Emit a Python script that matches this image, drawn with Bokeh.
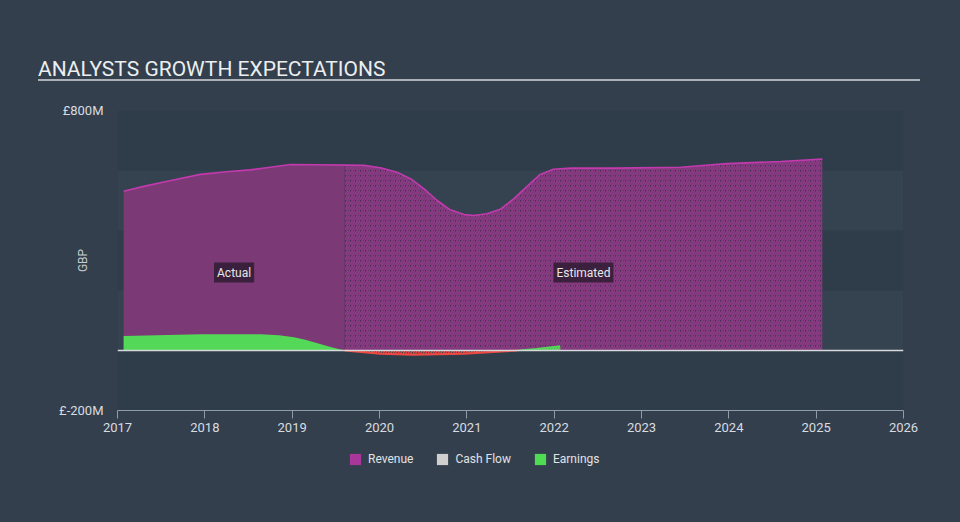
import numpy as np
from bokeh.plotting import figure
from bokeh.layouts import column
from bokeh.models import (Range1d, FixedTicker, Span, Label, Legend, LegendItem, Div,
                          BoxAnnotation)
from bokeh.embed import file_html
from bokeh.resources import INLINE

title_text = "ANALYSTS GROWTH EXPECTATIONS"
y_axis_name = "GBP"
x_ticks = [2017, 2018, 2019, 2020, 2021, 2022, 2023, 2024, 2025, 2026]
y_ticks = [-200, 800]
y_tick_labels = ["£-200M", "£800M"]
band_ticks = [-200, 0, 200, 400, 600, 800]
split_year = 2019.6

rev_years = [2017.07, 2017.3, 2017.57, 2017.95, 2018.25, 2018.52, 2018.75, 2018.98, 2019.3,
             2019.6, 2019.82, 2020.01, 2020.2, 2020.36, 2020.51, 2020.66, 2020.81, 2020.97,
             2021.08, 2021.23, 2021.39, 2021.54, 2021.69, 2021.84, 2021.99, 2022.19, 2022.68,
             2023.45, 2023.98, 2024.59, 2025.07]
rev_vals = [531, 547, 564, 587, 596, 602, 611, 620, 619,
            618, 617, 609, 594, 572, 539, 500, 469, 453,
            450, 456, 472, 506, 547, 587, 604, 608, 608,
            611, 623, 630, 638]

earn_years = [2017.07, 2017.95, 2018.64, 2018.85, 2019.02, 2019.15, 2019.29, 2019.45, 2019.6,
              2020.01, 2020.39, 2020.96, 2021.35, 2021.58, 2021.8, 2022.07]
earn_vals = [48, 54, 54, 51, 44, 36, 24, 11, 0,
             -11, -14, -11, -4, 0, 6, 15]

legend_names = ["Revenue", "Cash Flow", "Earnings"]
legend_colors = ["#a8379c", "#cfcfcf", "#4fdc52"]

PAGE = "#333f4d"
DARK = "#2f3c4a"
LIGHT = "#354351"
TXT = "#d8dce0"
AXIS = "#8f9caa"
BG = {"background-color": PAGE}

title_div = Div(
    text=(f'<div style="position:relative; left:38px; top:57px; width:882px; height:24px; '
          f'line-height:24px; border-bottom:2px solid #aab0b6; font-family:Roboto; '
          f'font-size:21px; color:#eceef0; white-space:nowrap;">{title_text}</div>'),
    width=960, height=90, margin=0, styles=BG)

p = figure(width=960, height=350, frame_width=786, frame_height=300,
           output_backend="svg", toolbar_location=None,
           x_range=Range1d(2017, 2026), y_range=Range1d(-200, 800),
           min_border_left=117, min_border_right=57, min_border_top=20, min_border_bottom=30,
           background_fill_color=None, border_fill_color=None, outline_line_color=None,
           margin=0, styles=BG)

# frame background (dark) + light bands
p.add_layout(BoxAnnotation(fill_color=DARK, fill_alpha=1, line_color=None, level="image"))
p.xgrid.visible = False
p.ygrid.ticker = FixedTicker(ticks=band_ticks)
p.ygrid.grid_line_color = None
p.ygrid.band_fill_color = LIGHT
p.ygrid.band_fill_alpha = 1

rx = np.array(rev_years); ry = np.array(rev_vals, dtype=float)
ex = np.array(earn_years); ey = np.array(earn_vals, dtype=float)

ma = rx <= split_year
me = rx >= split_year
p.varea(x=rx[ma], y1=0, y2=ry[ma], fill_color="#7b3a75")
p.varea(x=rx[me], y1=0, y2=ry[me], fill_color="#452f50", hatch_pattern="/",
        hatch_color="#8a3b83", hatch_scale=5, hatch_weight=2)
p.line(rx, ry, line_color="#c23aad", line_width=1.6)

ea = ex <= split_year
ee = ex >= split_year
p.varea(x=ex[ea], y1=0, y2=np.maximum(ey[ea], 0), fill_color="#53d858")
pos_e = ee & (ey >= 0) & (ex >= 2021.5)
neg_e = ee & (ey <= 0)
p.varea(x=ex[pos_e], y1=0, y2=ey[pos_e], fill_alpha=0, hatch_pattern="/",
        hatch_color="#53d858", hatch_scale=5, hatch_weight=2)
p.line(ex[pos_e], ey[pos_e], line_color="#53d858", line_width=1.6)
p.varea(x=ex[neg_e], y1=ey[neg_e], y2=0, fill_alpha=0, hatch_pattern="/",
        hatch_color="#e8433f", hatch_scale=5, hatch_weight=1.5)
p.line(ex[neg_e], ey[neg_e], line_color="#ee4a44", line_width=2)

p.add_layout(Span(location=0, dimension="width", line_color="#d5d9dc", line_width=1.5))

# axes
p.xaxis.ticker = FixedTicker(ticks=x_ticks)
p.xaxis.axis_line_color = AXIS
p.xaxis.major_tick_line_color = AXIS
p.xaxis.major_tick_out = 8
p.xaxis.major_tick_in = 0
p.xaxis.minor_tick_line_color = None
p.xaxis.major_label_text_color = TXT
p.xaxis.major_label_text_font = "Roboto"
p.xaxis.major_label_text_font_size = "13px"
p.xaxis.major_label_standoff = 4

p.yaxis.ticker = FixedTicker(ticks=y_ticks)
p.yaxis.major_label_overrides = dict(zip(y_ticks, y_tick_labels))
p.yaxis.axis_line_color = None
p.yaxis.major_tick_line_color = None
p.yaxis.minor_tick_line_color = None
p.yaxis.major_tick_out = 0
p.yaxis.major_label_standoff = 14
p.yaxis.major_label_text_color = TXT
p.yaxis.major_label_text_font = "Roboto"
p.yaxis.major_label_text_font_size = "13px"
p.yaxis.axis_label = y_axis_name
p.yaxis.axis_label_standoff = -34
p.yaxis.axis_label_text_font = "Roboto"
p.yaxis.axis_label_text_font_size = "12px"
p.yaxis.axis_label_text_font_style = "normal"
p.yaxis.axis_label_text_color = "#c8ccd0"

# Actual / Estimated tags
for txt, xc in [("Actual", (rev_years[0] + split_year) / 2),
                ("Estimated", (split_year + rev_years[-1]) / 2)]:
    p.add_layout(Label(x=xc, y=260, text=txt, text_align="center", text_baseline="middle",
                       text_font="Roboto", text_font_size="12px", text_color="#e6e6e6",
                       background_fill_color="#2a1a2e", background_fill_alpha=0.8,
                       padding=3))

# legend in its own strip below the chart
lg = figure(width=960, height=82, output_backend="svg", toolbar_location=None,
            x_range=Range1d(0, 1), y_range=Range1d(0, 1),
            x_axis_location=None, y_axis_location=None,
            min_border=0, background_fill_color=None, border_fill_color=None,
            outline_line_color=None, margin=0, styles=BG)
lg.grid.visible = False
items = []
for name, col in zip(legend_names, legend_colors):
    # zero-area placeholder: only its legend swatch is visible
    r = lg.varea(x=[0], y1=[0], y2=[0], fill_color=col)
    items.append(LegendItem(label=name, renderers=[r]))
legend = Legend(items=items, orientation="horizontal", location=(231, 56),
                border_line_color=None, background_fill_alpha=0,
                label_text_color="#e0e3e6", label_text_font="Roboto",
                label_text_font_size="12px", glyph_width=14, glyph_height=14,
                spacing=22, label_standoff=6, padding=0, margin=0)
lg.add_layout(legend)

layout = column(title_div, p, lg, spacing=0, margin=0, styles=BG)
open("out.html", "w").write(file_html(layout, INLINE))
